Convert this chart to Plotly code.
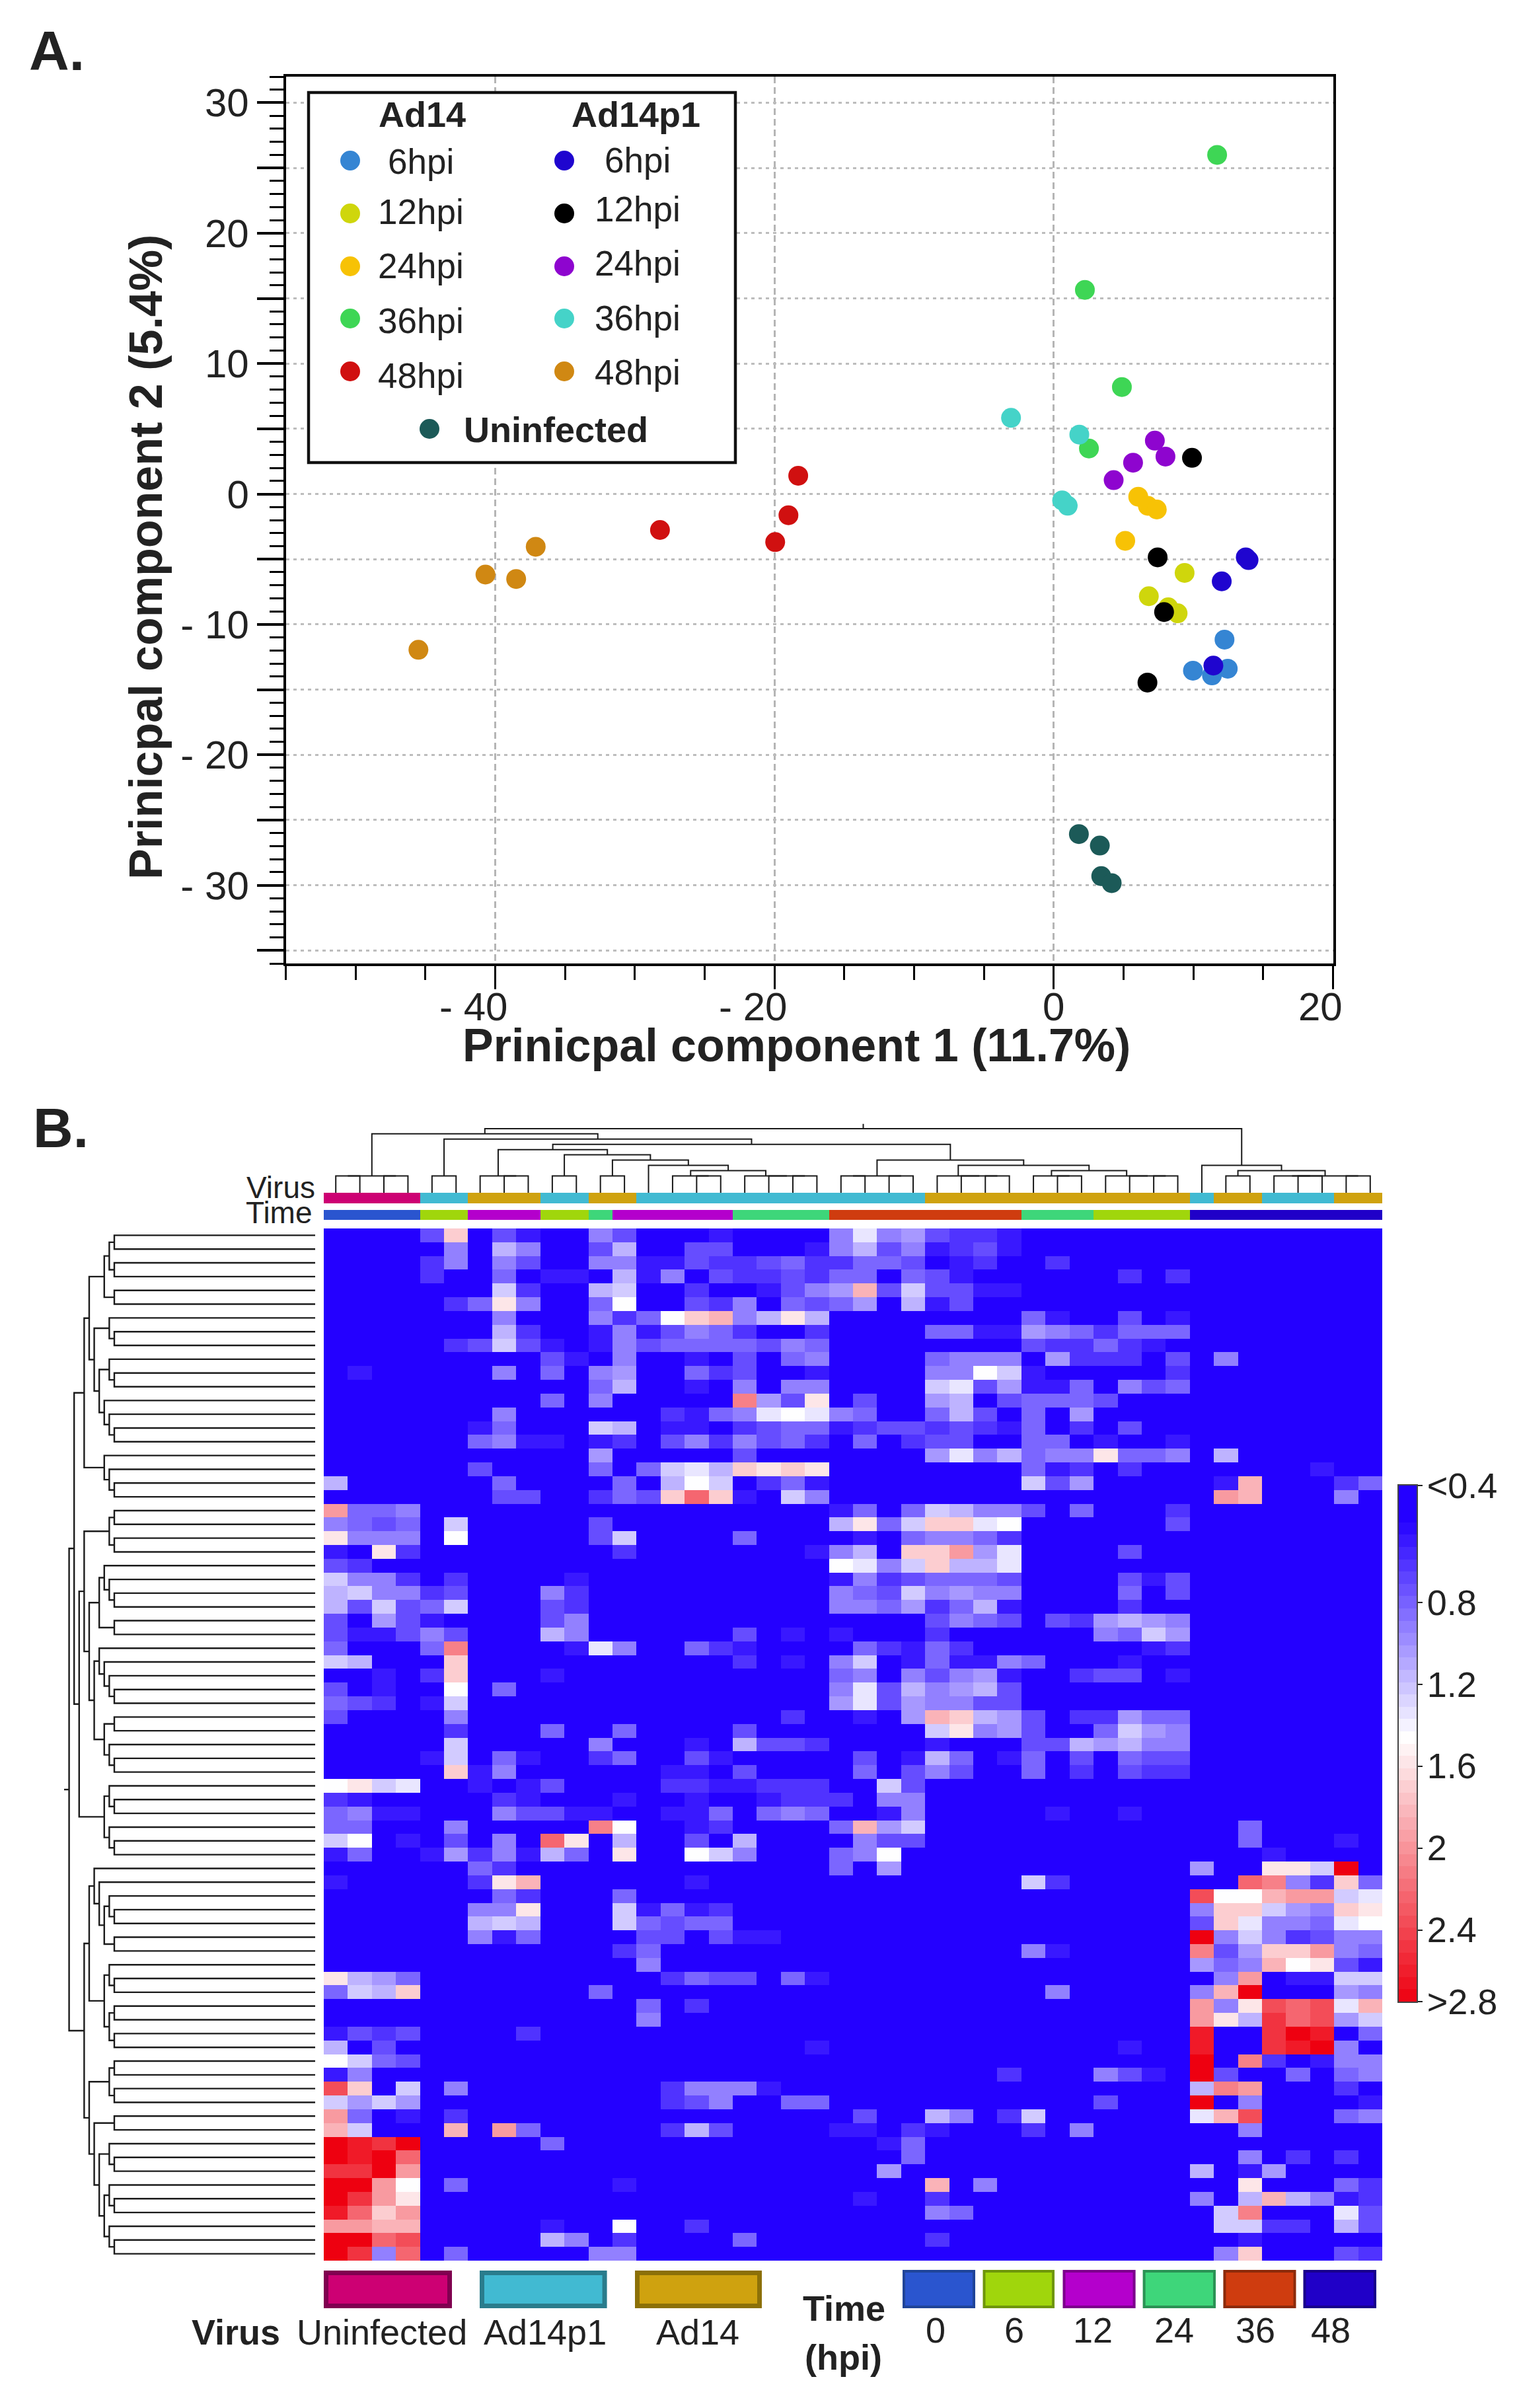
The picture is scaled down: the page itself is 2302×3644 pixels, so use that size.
# PCA scatter and clustered heatmap, Ad14 / Ad14p1 infection time course
import plotly.graph_objects as go

W, H = 2302, 3644
TEXT_COLOR = "#222222"
FONT = "Liberation Sans"

# ---- panel A values
AD14_6_X = [12.23, 9.97, 12.46, 11.33]
AD14_6_Y = [-11.17, -13.55, -13.4, -13.91]
AD14_12_X = [9.37, 6.81, 8.2, 8.87]
AD14_12_Y = [-6.05, -7.84, -8.69, -9.15]
AD14_24_X = [6.05, 6.74, 7.38, 5.12]
AD14_24_Y = [-0.21, -0.91, -1.19, -3.59]
AD14_36_X = [11.7, 2.23, 4.88, 2.52]
AD14_36_Y = [26.0, 15.65, 8.2, 3.49]
AD14_48_X = [-18.3, -19.0, -19.95, -28.2]
AD14_48_Y = [1.4, -1.63, -3.69, -2.76]
P1_6_X = [13.75, 13.95, 12.03, 11.43]
P1_6_Y = [-4.86, -5.07, -6.7, -13.16]
P1_12_X = [9.9, 7.44, 7.9, 6.71]
P1_12_Y = [2.77, -4.86, -9.05, -14.46]
P1_24_X = [7.24, 8.0, 5.68, 4.29]
P1_24_Y = [4.09, 2.87, 2.4, 1.06]
P1_36_X = [-3.06, 1.83, 0.6, 1.0]
P1_36_Y = [5.84, 4.55, -0.49, -0.9]
P1_48_X = [-37.1, -38.5, -40.7, -45.5]
P1_48_Y = [-4.05, -6.52, -6.18, -11.95]
UNINF_X = [1.8, 3.3, 3.4, 4.15]
UNINF_Y = [-26.08, -26.96, -29.3, -29.84]

GROUPS = [
    ("Ad14 6hpi", AD14_6_X, AD14_6_Y, "#3585d3"),
    ("Ad14 12hpi", AD14_12_X, AD14_12_Y, "#cfd60c"),
    ("Ad14 24hpi", AD14_24_X, AD14_24_Y, "#f7c205"),
    ("Ad14 36hpi", AD14_36_X, AD14_36_Y, "#3ed655"),
    ("Ad14 48hpi", AD14_48_X, AD14_48_Y, "#d01010"),
    ("Ad14p1 6hpi", P1_6_X, P1_6_Y, "#1f05cf"),
    ("Ad14p1 12hpi", P1_12_X, P1_12_Y, "#000000"),
    ("Ad14p1 24hpi", P1_24_X, P1_24_Y, "#8e05cf"),
    ("Ad14p1 36hpi", P1_36_X, P1_36_Y, "#45d3c8"),
    ("Ad14p1 48hpi", P1_48_X, P1_48_Y, "#d08813"),
    ("Uninfected", UNINF_X, UNINF_Y, "#1c5a58"),
]

X_TICKS = [-40, -20, 0, 20]
X_TICK_TEXT = ["- 40", "- 20", "0", "20"]
Y_TICKS = [30, 25, 20, 15, 10, 5, 0, -5, -10, -15, -20, -25, -30, -35]
Y_TICK_TEXT = ["30", "", "20", "", "10", "", "0", "", "- 10", "", "- 20", "", "- 30", ""]

# ---- panel B values: one character per cell, see LEVEL_CODES
LEVEL_CODES = ".123456789wabcdefghij"
LEVEL_VALUES = [0.4, 0.5, 0.61, 0.72, 0.82, 0.93, 1.03, 1.14, 1.24, 1.35, 1.45,
                1.58, 1.71, 1.84, 1.97, 2.1, 2.23, 2.36, 2.49, 2.62, 2.75]

# columns 0-17
HEAT_LEFT = [
    "....3b.31..53...1.", ".....5.75..37..33.", "....25.53..5511322", "....2..4.11.715.32",
    ".......82..78..2..", ".....24a5..4w..325", ".......5...524wbc5", ".......72..1513542",
    ".....23831.1534444", ".........31.5..1.3", ".1.....5.4.56..423", "...........47..1.5",
    ".........4.5.....e", ".......5......2145", "......14...87.11.2", "......4511.12.3525",
    "...........6.....3", "......3....4.4897b", "7......4....4.7w8.", ".......33..243bfb1",
    "d445..............", "5434.8.....3......", "a555.w.....38....4", "1.a2........2.....",
    "32................", "8552.2....1.......", "785523...52.......", "738348...32.......",
    "3.631....35.......", "311353...75......3", "4...4e....195..421", "87...b...........2",
    "..1.2b...1........", "3.1..w.4..........", "432.18............", "3....5............",
    ".....2...4..4....3", ".....8.....5...1.7", "....18.41..24..31.", ".....b15......11.3",
    "wa89..1.13....2211", "21.....21...1..1..", "4511...53311..114.", "44...5.....ew..12.",
    "8w.1.3.5.fa.7..3.7", "14..1625174.a..w85", "......42..........", "1.....2ac......1..",
    ".......42...4.....", "......55a...81412.", "......787...84344.", "......514....33.31",
    "............24....", ".............5....", "a764..........2433", "487b.......4......",
    ".............4.2..", ".............5....", "1323....2.........", "7.3...............",
    "w843..............", "15................", "gb.8.5........2555", "8686..........235.",
    "d4.1.2............", "c8...c.d4.....273.", "jihj.....4........", "jijf..............",
    "hhjd..............", "jjdw.4......1.....", "jhda..............", "ifbd..............",
    "ddcc.....1..w..2..", "jjfg.....75.2....4", "jh5f.4.....55.....",
]

# columns 18-43, trailing blue cells left out
HEAT_RIGHT = [
    "...59563221", "..157351231", "3422443.12..2", "23244.431......2.2",
    "1356c383311", ".4346.713", "7a7........41..3.1", "..2....44116542444",
    "354........322421", ".45....4555.6222.3.5", "..1....55w81.....2", ".55....8936114.534",
    "63a.3..67.34443", "9w954..473.4.6", "344123323214.2.3", "342.4.233..44.1..1",
    ".......6957455a445.7", "aba........412.2.......1", "241........836.....1c...24", ".85................dc...5",
    "...14.487553.4...2", "...7a48bb9w......3", "....1.45542", "..157.bbd69....3",
    "...w958b779", "...15234443....313", "...54385655....4.3", "...55462471....2",
    ".......3543.326765", ".1.1...2......5486", "....42142.......12", ".1.58.141154...1",
    "...45.53561..233.1", "...59375673", "...69365533", ".2..1.6cb763.22644",
    ".......8a563..4865", "332....1...3376755", "....3.174.14.3.433", "....4.353..4.2.322",
    "222..83", "1222.55", "454..15.....1..1", "...4c68.............4",
    "....533.............4...1", "...45w...............1", "...4.6............6..aa8j.", "...........82.......fe52b4",
    "..................gwwcdd89", "..................5bb865ba", "..................3b95549w", "1.................j5852355",
    "...........51.....e36bbd54", "..................645cwa31", ".41................5d.1188", "............5.....5cj...65",
    "..................d5agfg9c", "..................da7hfg68", "..................i..hji.4", "..1............1..i..hij5.",
    "..................j.e2.155", "..........2...531.j3..4.45", "1.................7ed...2", ".44...........3...j.5....1",
    "....3..75.28......9cg...45", "...11.21...2.5......5", ".....14", "......4.............5.2.2",
    ".....6............7.16", ".......c.5..........a...42", "....1..2..........5.7c7512", ".......54..........8e...93",
    "...................8822.73", ".......2............1", "...................5b...32",
]

KEY_TICKS = [0.23, 0.8, 1.2, 1.6, 2.0, 2.4, 2.75]
KEY_TICK_TEXT = ["<0.4", "0.8", "1.2", "1.6", "2", "2.4", ">2.8"]

# runs of equal annotation along the heatmap columns
VIRUS_RUNS = [("Uninfected", 4), ("Ad14p1", 2), ("Ad14", 3), ("Ad14p1", 2), ("Ad14", 2), ("Ad14p1", 12),
              ("Ad14", 11), ("Ad14p1", 1), ("Ad14", 2), ("Ad14p1", 3), ("Ad14", 2)]
TIME_RUNS = [("0", 4), ("6", 2), ("12", 3), ("6", 2), ("24", 1), ("12", 5), ("24", 4), ("36", 8),
             ("24", 3), ("6", 4), ("48", 8)]
BAND_NAMES = ["Uninfected", "Ad14p1", "Ad14", "0", "6", "12", "24", "36", "48"]
BAND_COLORS = ["#cd0073", "#41bad2", "#cfa20f", "#2a55cf", "#a0d60c", "#b400cc", "#3ed67a", "#cf3c0f", "#2000c8"]
BAND_EDGES = ["#800050", "#2a7c8c", "#8c7008", "#1f4499", "#6e960a", "#7c008c", "#2a9254", "#8c2a0a", "#18008c"]

# dendrograms as (height, child, child), an int child is a leaf
top_a = (6.5, (6.5, 0, 1), (6.5, 2, 3))
top_b = (6.5, 4, 5)
top_c = (6.5, 6, (6.5, 7, 8))
top_d = (8.5, 13, (7.5, (6.5, 14, (6.5, 15, 16)), (6.5, 17, (6.5, 18, (6.5, 19, 20)))))
top_e = (9.5, (6.5, 11, 12), top_d)
top_f = (11.5, top_c, (10.5, (6.5, 9, 10), top_e))
top_g = (7.5, (6.5, 29, (6.5, 30, 31)), (6.5, 32, (6.5, 33, (6.5, 34, 35))))
top_h = (9.5, (6.5, (6.5, 21, 22), (6.5, 23, 24)), (8.5, (6.5, 25, (6.5, 26, (6.5, 27, 28))), top_g))
top_left = (14.5, top_a, (13.5, top_b, (12.5, top_f, top_h)))
top_right = (8.5, 36, (7.5, (6.5, 37, 38), (6.5, (6.5, 39, (6.5, 40, 41)), (6.5, 42, 43))))
TOP_TREE = (15.5, top_left, top_right)

row_a = (45, (42, (41, (40, 0, 1), (40, 2, 3)), (40, 4, 5)),
         (44, (41, 6, (40, 7, 8)), (43, (41, 9, (40, 10, 11)), (42, 12, (41, 13, (40, 14, 15))))))
row_b = (46, row_a, (42, 16, (41, 17, (40, 18, 19))))
row_c = (45, (43, (42, 24, (41, 25, (40, 26, 27))), (40, 28, 29)),
         (44, (43, 30, (42, 31, (41, 32, (40, 33, 34)))), (42, (40, 35, 36), (41, 37, (40, 38, 39)))))
row_d = (47, (46, (41, (40, 20, 21), (40, 22, 23)), row_c),
         (42, (41, 40, (40, 41, 42)), (41, 43, (40, 44, 45))))
row_e = (45, (44, 46, (43, 47, (42, (41, 48, (40, 49, 50)), (40, 51, 52)))),
         (42, (41, 53, (40, 54, 55)), (41, (40, 56, 57), (40, 58, 59))))
row_f = (43, (41, 66, (40, 67, 68)), (42, (41, 69, (40, 70, 71)), (41, 72, (40, 73, 74))))
row_g = (45, (41, (40, 60, 61), (40, 62, 63)), (44, (40, 64, 65), row_f))
ROW_TREE = (49, (48, row_b, row_d), (46, row_e, row_g))


def fx(x):
    return x / W


def fy(y):
    return 1 - y / H


def walk_tree(node, pos, hgt):
    # collects the elbow paths, returns position and height of the node
    if isinstance(node, int):
        return node, 0
    h, a, b = node
    pa, ha = walk_tree(a, pos, hgt)
    pb, hb = walk_tree(b, pos, hgt)
    pos += [pa, pa, pb, pb, None]
    hgt += [ha, h, h, hb, None]
    return (pa + pb) / 2, h


def expand(runs):
    out = []
    for name, n in runs:
        out += [BAND_NAMES.index(name) + 0.5] * n
    return out


fig = go.Figure()

for name, xs, ys, color in GROUPS:
    fig.add_trace(go.Scatter(x=xs, y=ys, mode="markers", name=name,
                             marker=dict(size=30, color=color, line_width=0),
                             xaxis="x", yaxis="y"))

# top dendrogram
tp, th = [], []
root_p, root_h = walk_tree(TOP_TREE, tp, th)
tp += [root_p, root_p]
th += [root_h, root_h + 0.9]
fig.add_trace(go.Scatter(x=tp, y=th, mode="lines", line=dict(color="#1a1a1a", width=2),
                         xaxis="x2", yaxis="y2"))

# left dendrogram
lp, lh = [], []
root_p, root_h = walk_tree(ROW_TREE, lp, lh)
lp += [root_p, root_p]
lh += [root_h, root_h + 1]
fig.add_trace(go.Scatter(x=lh, y=lp, mode="lines", line=dict(color="#1a1a1a", width=2.4),
                         xaxis="x3", yaxis="y3"))

# virus and time bands, the empty middle row lets the dendrogram stems show
n_band = len(BAND_COLORS)
band_scale = []
for i, c in enumerate(BAND_COLORS):
    band_scale += [[i / n_band, c], [(i + 1) / n_band, c]]
fig.add_trace(go.Heatmap(
    z=[expand(VIRUS_RUNS), [None] * 44, expand(TIME_RUNS)],
    y=[0, 15.5, 26, 41.4],
    colorscale=band_scale, zmin=0, zmax=n_band, showscale=False, hoverinfo="skip",
    xaxis="x4", yaxis="y4"))

# main heatmap
heat_scale = [[0, "#2400ff"], [0.449, "#ffffff"], [1, "#ee0010"]]
heat_z = []
for left, right in zip(HEAT_LEFT, HEAT_RIGHT):
    assert len(left) == 18 and len(right) <= 26
    row = left + right.ljust(26, ".")
    heat_z.append([LEVEL_VALUES[LEVEL_CODES.index(c)] for c in row])
fig.add_trace(go.Heatmap(z=heat_z, colorscale=heat_scale, zmin=0.4, zmax=2.75, showscale=False,
                         xaxis="x5", yaxis="y5"))

# colour key, reversed so low values sit on top like the original
key_steps = 42
key_lo, key_hi = KEY_TICKS[0], KEY_TICKS[-1]
key_edges = [key_lo + (key_hi - key_lo) * i / key_steps for i in range(key_steps + 1)]
key_mid = [(a + b) / 2 for a, b in zip(key_edges, key_edges[1:])]
fig.add_trace(go.Heatmap(z=[[v] for v in key_mid], y=key_edges, colorscale=heat_scale,
                         zmin=0.4, zmax=2.75, showscale=False, xaxis="x6", yaxis="y6"))

hidden = dict(visible=False, showgrid=False, zeroline=False, automargin=False)
heat_dom_x = [fx(490), fx(2092)]
heat_dom_y = [fy(3421), fy(1859)]

fig.update_layout(
    template="none",
    width=W, height=H, autosize=False, showlegend=False,
    margin=dict(l=0, r=0, t=0, b=0, pad=0, autoexpand=False),
    paper_bgcolor="white", plot_bgcolor="white",
    font=dict(family=FONT, color=TEXT_COLOR),
    xaxis=dict(
        domain=[fx(432.5), fx(2017.5)], range=[-55, 20], zeroline=False, automargin=False,
        tickmode="array", tickvals=X_TICKS, showticklabels=False,
        ticks="outside", ticklen=35, tickwidth=3, tickcolor="black",
        showline=True, mirror=True, linecolor="black", linewidth=3.5,
        showgrid=True, gridcolor="#b5b5b5", gridwidth=2.5, griddash="10px,6px",
        minor=dict(tickmode="linear", tick0=-55, dtick=5, ticks="outside", ticklen=21,
                   tickwidth=3, tickcolor="black", showgrid=False),
    ),
    yaxis=dict(
        domain=[fy(1458), fy(116)], range=[-36, 32], zeroline=False, automargin=False,
        tickmode="array", tickvals=Y_TICKS, ticktext=Y_TICK_TEXT,
        tickfont=dict(size=60, color=TEXT_COLOR),
        ticks="outside", ticklen=40, tickwidth=4, tickcolor="black",
        showline=True, mirror=True, linecolor="black", linewidth=3.5,
        showgrid=True, gridcolor="#bdbdbd", gridwidth=3, griddash="5px,6px",
        minor=dict(tickmode="linear", tick0=0, dtick=1, ticks="outside", ticklen=21,
                   tickwidth=3, tickcolor="black", showgrid=False),
    ),
    xaxis2=dict(hidden, domain=heat_dom_x, range=[-0.5, 43.5], anchor="y2"),
    yaxis2=dict(hidden, domain=[fy(1831), fy(1696)], range=[0, 17], anchor="x2"),
    xaxis3=dict(hidden, domain=[fx(70), fx(477)], range=[53.55, 0], anchor="y3"),
    yaxis3=dict(hidden, domain=heat_dom_y, range=[74.5, -0.5], anchor="x3"),
    xaxis4=dict(hidden, domain=heat_dom_x, range=[-0.5, 43.5], anchor="y4"),
    yaxis4=dict(hidden, domain=[fy(1846.4), fy(1805)], range=[41.4, 0], anchor="x4"),
    xaxis5=dict(hidden, domain=heat_dom_x, range=[-0.5, 43.5], anchor="y5"),
    yaxis5=dict(hidden, domain=heat_dom_y, range=[74.5, -0.5], anchor="x5"),
    xaxis6=dict(domain=[fx(2117), fx(2144)], anchor="y6", showticklabels=False, ticks="",
                showgrid=False, zeroline=False, showline=True, mirror=True, automargin=False,
                linecolor="#444444", linewidth=2),
    yaxis6=dict(domain=[fy(3029), fy(2248)], range=[key_hi, key_lo], anchor="x6", side="right",
                tickmode="array", tickvals=KEY_TICKS, ticktext=KEY_TICK_TEXT, automargin=False,
                tickfont=dict(size=54, color=TEXT_COLOR), ticks="outside", ticklen=7, tickwidth=2,
                ticklabelstandoff=-4,
                tickcolor="#222222", showgrid=False, zeroline=False, showline=True, mirror=True,
                linecolor="#444444", linewidth=2),
)


def add_text(x, y, text, size, bold=False, angle=0, anchor="center"):
    fig.add_annotation(xref="paper", yref="paper", x=fx(x), y=fy(y), text=text, showarrow=False,
                       xanchor=anchor, yanchor="middle", textangle=angle,
                       font=dict(family=FONT, size=size, color=TEXT_COLOR, weight=700 if bold else 400))


def add_box(x0, y0, x1, y1, fill, edge, width):
    fig.add_shape(type="rect", xref="paper", yref="paper", x0=fx(x0), x1=fx(x1), y0=fy(y0), y1=fy(y1),
                  fillcolor=fill, line=dict(color=edge, width=width))


def add_dot(cx, cy, color):
    fig.add_shape(type="circle", xref="paper", yref="paper", x0=fx(cx - 15), x1=fx(cx + 15),
                  y0=fy(cy - 15), y1=fy(cy + 15), fillcolor=color, line_width=0)


# panel letters and axis titles
add_text(42, 77, "A.", 84, bold=True, anchor="left")
add_text(48, 1707, "B.", 84, bold=True, anchor="left")
add_text(1205, 1582, "Prinicpal component 1 (11.7%)", 70, bold=True)
add_text(221, 843, "Prinicpal component 2 (5.4%)", 70, bold=True, angle=-90)

# x tick labels sit left of their ticks in the original
for val, label, shift in zip(X_TICKS, X_TICK_TEXT, [-33, -33, 0, -19]):
    fig.add_annotation(xref="x", yref="paper", x=val, y=fy(1524), text=label, showarrow=False,
                       xshift=shift, yanchor="middle",
                       font=dict(family=FONT, size=60, color=TEXT_COLOR))

# legend box of panel A
add_box(467, 140, 1113, 700, "white", "#111111", 4.5)
add_text(639, 173, "Ad14", 54, bold=True)
add_text(962, 173, "Ad14p1", 54, bold=True)
LEGEND_ROWS = [("6hpi", 243, 244, 242), ("12hpi", 323, 320, 317), ("24hpi", 403, 402, 399),
               ("36hpi", 482, 485, 482), ("48hpi", 562, 569, 564)]
for i, (label, dot_y, left_y, right_y) in enumerate(LEGEND_ROWS):
    add_dot(530, dot_y, GROUPS[i][3])
    add_dot(854, dot_y, GROUPS[i + 5][3])
    add_text(637, left_y, label, 53)
    add_text(965, right_y, label, 53)
add_dot(650, 649, GROUPS[10][3])
add_text(842, 650, "Uninfected", 54, bold=True)

# row labels of the bands
add_text(479, 1797, "Virus", 46, anchor="right")
add_text(475, 1835, "Time", 46, anchor="right")

# keys under the heatmap
for name, x0, x1, cx in [("Uninfected", 490, 684, 578), ("Ad14p1", 726, 918.6, 825), ("Ad14", 961, 1153, 1056)]:
    i = BAND_NAMES.index(name)
    add_box(x0 + 3.5, 3439.5, x1 - 3.5, 3489.5, BAND_COLORS[i], BAND_EDGES[i], 7)
    add_text(cx, 3529, name, 54)
add_text(357, 3529, "Virus", 54, bold=True)
for name, x0, x1, cx in [("0", 1366, 1476, 1416), ("6", 1487.5, 1596, 1535), ("12", 1608.5, 1718.6, 1654),
                         ("24", 1729.6, 1840, 1777), ("36", 1851.4, 1961.5, 1900), ("48", 1972.5, 2083, 2014)]:
    i = BAND_NAMES.index(name)
    add_box(x0 + 2, 3437, x1 - 2, 3491, BAND_COLORS[i], BAND_EDGES[i], 4)
    add_text(cx, 3526, name, 54)
add_text(1277, 3493, "Time", 54, bold=True)
add_text(1276, 3567, "(hpi)", 54, bold=True)

fig.write_html("out.html", config={"displayModeBar": False},
               post_script="document.body.style.margin='0';")
